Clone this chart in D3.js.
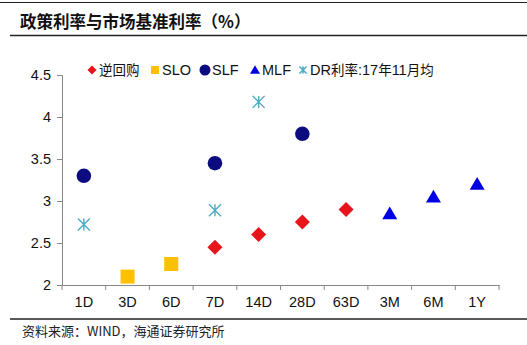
<!DOCTYPE html>
<html><head><meta charset="utf-8">
<script src="https://cdn.jsdelivr.net/npm/d3@7"></script>
<style>body{margin:0;background:#fff}svg{display:block}</style>
</head><body>
<script>
const categories = ["1D","3D","6D","7D","14D","28D","63D","3M","6M","1Y"];
const yTicks = [2, 2.5, 3, 3.5, 4, 4.5];
const repo = [["7D",2.45],["14D",2.6],["28D",2.75],["63D",2.9]];
const slo = [["3D",2.1],["6D",2.25]];
const slf = [["1D",3.3],["7D",3.45],["28D",3.8]];
const mlf = [["3M",2.85],["6M",3.05],["1Y",3.2]];
const dr = [["1D",2.72],["7D",2.89],["14D",4.18]];
const legendNames = ["逆回购","SLO","SLF","MLF","DR利率:17年11月均"];

const W=527,H=345;
const svg=d3.select("body").append("svg").attr("width",W).attr("height",H);
const latin="Arial, 'Liberation Sans', sans-serif";
const cjk="'Noto Sans CJK SC', sans-serif";

svg.append("line").attr("x1",0).attr("x2",W).attr("y1",2.5).attr("y2",2.5).attr("stroke","#222").attr("stroke-width",1);
svg.append("text").attr("x",20).attr("y",28).attr("font-family",cjk).attr("font-weight","bold").attr("font-size",16.5).attr("fill","#111").text("政策利率与市场基准利率（%）");
svg.append("line").attr("x1",10).attr("x2",W).attr("y1",35.5).attr("y2",35.5).attr("stroke","#222").attr("stroke-width",1.3);
svg.append("line").attr("x1",10).attr("x2",W).attr("y1",319).attr("y2",319).attr("stroke","#222").attr("stroke-width",1.3);
svg.append("text").attr("x",22).attr("y",336).attr("font-family",cjk).attr("font-size",13).attr("fill","#222")
  .text("资料来源：WIND，海通证券研究所");

const x=d3.scaleBand().domain(categories).range([62,499]);
const y=d3.scaleLinear().domain([2,4.5]).range([285,75]);

const ya=svg.append("g").attr("transform","translate(62,0)")
  .call(d3.axisLeft(y).tickValues(yTicks).tickSize(5).tickPadding(6).tickFormat(d3.format("")));
const xa=svg.append("g").attr("transform","translate(0,285)")
  .call(d3.axisBottom(x).tickSize(0).tickPadding(12));
[ya,xa].forEach(g=>{g.select(".domain").attr("stroke","#888");g.selectAll(".tick line").attr("stroke","#888");
  g.selectAll("text").attr("font-family",latin).attr("font-size",14.5).attr("fill","#111");});
// category boundary ticks
xa.selectAll(".bt").data(categories.concat(["_end"])).enter().append("line")
  .attr("x1",(d,i)=>62+i*x.bandwidth()).attr("x2",(d,i)=>62+i*x.bandwidth())
  .attr("y1",0).attr("y2",5).attr("stroke","#888");

const cx=d=>x(d[0])+x.bandwidth()/2, cy=d=>y(d[1]);
const colors={repo:"#e8141b",slo:"#ffc000",slf:"#0c0c80",mlf:"#0000e6",dr:"#4bacc6"};

function diamond(s){return `M0,${-s}L${s},0L0,${s}L${-s},0Z`;}
function star(s){return `M0,${-s}L0,${s}M${-s},${-s}L${s},${s}M${-s},${s}L${s},${-s}`;}
function tri(s){return `M0,${-s*0.95}L${s},${s*0.75}L${-s},${s*0.75}Z`;}

svg.selectAll(".repo").data(repo).enter().append("path").attr("d",diamond(7.5))
  .attr("transform",d=>`translate(${cx(d)},${cy(d)})`).attr("fill",colors.repo);
svg.selectAll(".slo").data(slo).enter().append("rect").attr("x",d=>cx(d)-7).attr("y",d=>cy(d)-7)
  .attr("width",14).attr("height",14).attr("fill",colors.slo);
svg.selectAll(".slf").data(slf).enter().append("circle").attr("cx",cx).attr("cy",cy).attr("r",7.3).attr("fill",colors.slf);
svg.selectAll(".mlf").data(mlf).enter().append("path").attr("d",tri(7.5))
  .attr("transform",d=>`translate(${cx(d)},${cy(d)})`).attr("fill",colors.mlf);
svg.selectAll(".dr").data(dr).enter().append("path").attr("d",star(6))
  .attr("transform",d=>`translate(${cx(d)},${cy(d)})`).attr("stroke",colors.dr).attr("stroke-width",1.4).attr("fill","none");

// legend
const lg=svg.append("g");
const items=[{x:92,name:legendNames[0],k:"repo"},{x:155,name:legendNames[1],k:"slo"},{x:205,name:legendNames[2],k:"slf"},{x:255,name:legendNames[3],k:"mlf"},{x:303,name:legendNames[4],k:"dr"}];
const ly=70;
items.forEach(it=>{
  const g=lg.append("g").attr("transform",`translate(${it.x},${ly})`);
  if(it.k==="repo")g.append("path").attr("d",diamond(4.5)).attr("fill",colors.repo);
  if(it.k==="slo")g.append("rect").attr("x",-4).attr("y",-4).attr("width",8).attr("height",8).attr("fill",colors.slo);
  if(it.k==="slf")g.append("circle").attr("r",5.5).attr("fill",colors.slf);
  if(it.k==="mlf")g.append("path").attr("d",tri(5)).attr("fill",colors.mlf);
  if(it.k==="dr")g.append("path").attr("d",star(3.5)).attr("stroke",colors.dr).attr("stroke-width",1.6).attr("fill","none");
  const t=g.append("text").attr("x",7).attr("y",5).attr("font-size",14).attr("fill","#111");
  const parts=it.name.match(/[\u4e00-\u9fff]+|[^\u4e00-\u9fff]+/g);
  parts.forEach(p=>t.append("tspan").attr("font-family",/[\u4e00-\u9fff]/.test(p)?cjk:latin).attr("font-size",/[\u4e00-\u9fff]/.test(p)?13.5:14.5).text(p));
});
</script>
</body></html>
